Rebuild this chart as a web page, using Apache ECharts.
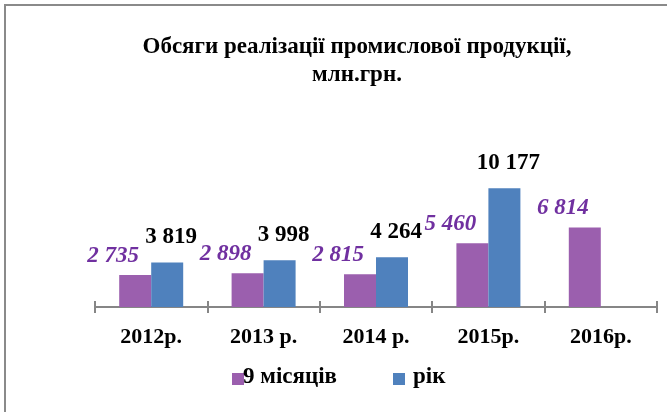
<!DOCTYPE html>
<html>
<head>
<meta charset="utf-8">
<script src="https://cdn.jsdelivr.net/npm/echarts@6/dist/echarts.min.js"></script>
<style>
  html, body { margin: 0; padding: 0; background: #fff; }
  #chart { width: 667px; height: 412px; }
</style>
</head>
<body>
<div id="chart"></div>
<script>
const years = ['2012р.', '2013 р.', '2014 р.', '2015р.', '2016р.'];
const nineMonths = [2735, 2898, 2815, 5460, 6814];
const fullYear = [3819, 3998, 4264, 10177, null];
const seriesNames = ['9 місяців', 'рік'];

const fmt = (v) => String(v).replace(/\B(?=(\d{3})+(?!\d))/g, ' ');
const serif = 'Liberation Serif';
const boldText = { fontFamily: serif, fontSize: 23, fontWeight: 'bold', color: '#000' };

const chart = echarts.init(document.getElementById('chart'));

// legend ignores fontFamily here, so the symbols come from the legend and the names are extra titles
chart.setOption({
    animation: false,
    textStyle: { fontFamily: serif },
    graphic: [{
        type: 'polyline',
        shape: { points: [[5, 412], [5, 5], [667, 5]] },
        style: { stroke: '#8a8a8a', lineWidth: 2, fill: null }
    }],
    title: [{
        text: 'Обсяги реалізації промислової продукції,\nмлн.грн.',
        left: 352,
        top: 28,
        textAlign: 'center',
        textStyle: Object.assign({ lineHeight: 28 }, boldText)
    }, {
        text: seriesNames[0],
        left: 238,
        top: 361,
        textStyle: boldText
    }, {
        text: seriesNames[1],
        left: 408,
        top: 361,
        textStyle: boldText
    }],
    legend: {
        left: 227,
        top: 368,
        itemWidth: 12,
        itemHeight: 12,
        itemGap: 149,
        icon: 'rect',
        formatter: () => '',
        data: seriesNames
    },
    grid: { left: 95, right: 10, top: 167, bottom: 105 },
    xAxis: [{
        type: 'category',
        data: years,
        axisLine: { lineStyle: { color: '#868686', width: 2 } },
        axisTick: { show: true, length: 6, lineStyle: { color: '#868686', width: 2 } },
        axisLabel: { margin: 19, fontFamily: serif, fontSize: 22, fontWeight: 'bold', color: '#000' }
    }, {
        type: 'category',
        data: years,
        position: 'bottom',
        axisLine: { show: false },
        axisTick: { show: true, inside: true, length: 6, lineStyle: { color: '#868686', width: 2 } },
        axisLabel: { show: false }
    }],
    yAxis: { type: 'value', min: 0, max: 12000, show: false },
    series: [{
        name: seriesNames[0],
        type: 'bar',
        data: nineMonths,
        barWidth: 32,
        barGap: '0%',
        itemStyle: { color: '#9b5fae' },
        label: {
            show: true,
            position: 'top',
            distance: 8,
            offset: [-22, 0],
            formatter: (p) => fmt(p.value),
            fontFamily: serif, fontSize: 23, fontStyle: 'italic', fontWeight: 'bold', color: '#7030a0'
        }
    }, {
        name: seriesNames[1],
        type: 'bar',
        data: fullYear,
        barWidth: 32,
        barGap: '0%',
        itemStyle: { color: '#4f81bd' },
        label: {
            show: true,
            position: 'top',
            distance: 14,
            offset: [4, 0],
            formatter: (p) => fmt(p.value),
            fontFamily: serif, fontSize: 23, fontWeight: 'bold', color: '#000'
        }
    }]
});

window.addEventListener('resize', () => chart.resize());
</script>
</body>
</html>
